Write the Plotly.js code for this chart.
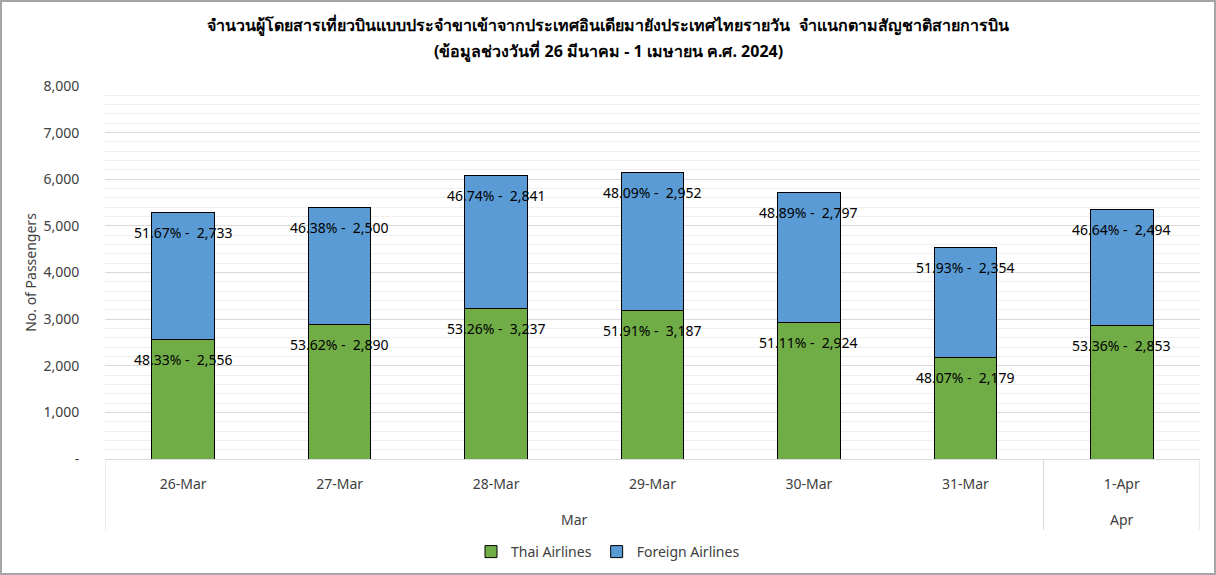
<!DOCTYPE html>
<html>
<head>
<meta charset="utf-8">
<script src="https://cdn.plot.ly/plotly-3.0.1.min.js"></script>
<style>
html,body{margin:0;padding:0;background:#fff;}
#chart{width:1216px;height:575px;}
#frame{position:fixed;left:0;top:0;width:1216px;height:575px;box-sizing:border-box;border:2px solid #a6a6a6;pointer-events:none;}
</style>
</head>
<body>
<div id="chart"></div>
<div id="frame"></div>
<script>
const dates = ["26-Mar","27-Mar","28-Mar","29-Mar","30-Mar","31-Mar","1-Apr"];
const months = ["Mar","Mar","Mar","Mar","Mar","Mar","Apr"];
const thaiAirlines = [2556, 2890, 3237, 3187, 2924, 2179, 2853];
const foreignAirlines = [2733, 2500, 2841, 2952, 2797, 2354, 2494];
const yTickVals = [0,1000,2000,3000,4000,5000,6000,7000,8000];
const yTickText = ["-","1,000","2,000","3,000","4,000","5,000","6,000","7,000","8,000"];
const titleLine1 = "จำนวนผู้โดยสารเที่ยวบินแบบประจำขาเข้าจากประเทศอินเดียมายังประเทศไทยรายวัน  จำแนกตามสัญชาติสายการบิน";
const titleLine2 = "(ข้อมูลช่วงวันที่ 26 มีนาคม - 1 เมษายน ค.ศ. 2024)";

const fmt = n => n.toLocaleString("en-US");
const font = "Noto Sans, Tahoma, sans-serif";
const W = 1216, H = 575, mL = 105, mR = 16, mT = 86, mB = 116;
const plotW = W - mL - mR, plotH = H - mT - mB;

const traces = [
  {type:"bar", name:"Thai Airlines", x:dates, y:thaiAirlines,
   marker:{color:"#70ad47", line:{color:"#000", width:1}}, width:0.4, hoverinfo:"y"},
  {type:"bar", name:"Foreign Airlines", x:dates, y:foreignAirlines,
   marker:{color:"#5b9bd5", line:{color:"#000", width:1}}, width:0.4, hoverinfo:"y"}
];

const annotations = [];
for (let i = 0; i < dates.length; i++) {
  const tot = thaiAirlines[i] + foreignAirlines[i];
  const pt = (thaiAirlines[i] / tot * 100).toFixed(2);
  const pf = (foreignAirlines[i] / tot * 100).toFixed(2);
  annotations.push({x:dates[i], y:thaiAirlines[i], xref:"x", yref:"y",
    text: pt + "% - \u00a0" + fmt(thaiAirlines[i]), showarrow:false, yanchor:"middle", yshift:-20,
    font:{family:font, size:14, color:"#000"}});
  annotations.push({x:dates[i], y:tot, xref:"x", yref:"y",
    text: pf + "% - \u00a0" + fmt(foreignAirlines[i]), showarrow:false, yanchor:"middle", yshift:-20,
    font:{family:font, size:14, color:"#000"}});
}

// second title line, centred on the whole picture
annotations.push({x:(W / 2 - mL) / plotW, xref:"paper", xanchor:"center", y:(H - mB - 52) / plotH, yref:"paper", yanchor:"middle",
  text:"<b>" + titleLine2 + "</b>", showarrow:false, font:{family:font, size:16, color:"#000"}});

// month groups: labels and dividers from the months array
const shapes = [];
const groups = [];
months.forEach((m, i) => {
  if (!groups.length || groups[groups.length-1].m !== m) groups.push({m:m, s:i, e:i});
  else groups[groups.length-1].e = i;
});
const divBottom = -71 / plotH;
groups.forEach((g, k) => {
  annotations.push({x:(g.s + g.e) / 2, y:-60 / plotH, xref:"x", yref:"paper", text:g.m,
    showarrow:false, yanchor:"middle", font:{family:font, size:14, color:"#404040"}});
  if (k === 0) shapes.push({type:"line", xref:"x", yref:"paper", x0:g.s-0.5, x1:g.s-0.5, y0:0, y1:divBottom,
    line:{color:"#d9d9d9", width:1}});
  shapes.push({type:"line", xref:"x", yref:"paper", x0:g.e+0.5, x1:g.e+0.5, y0:0, y1:divBottom,
    line:{color:"#d9d9d9", width:1}});
});

const layout = {
  width:W, height:H,
  margin:{l:mL, r:mR, t:mT, b:mB},
  paper_bgcolor:"#fff", plot_bgcolor:"#fff",
  barmode:"stack",
  title:{text:"<b>" + titleLine1 + "</b>",
    x:0.5, xref:"container", y:1 - 25 / H, yanchor:"middle",
    font:{family:font, size:16, color:"#000"}},
  xaxis:{type:"category", range:[-0.5, dates.length - 0.5], showline:true, linecolor:"#d9d9d9", linewidth:1,
    tickfont:{family:font, size:14, color:"#404040"},
    ticks:"outside", ticklen:12, tickcolor:"rgba(0,0,0,0)", showgrid:false},
  yaxis:{range:[0,8000], tickvals:yTickVals, ticktext:yTickText,
    showgrid:true, gridcolor:"#d9d9d9", gridwidth:1,
    minor:{dtick:200, showgrid:true, gridcolor:"#efefef", gridwidth:1},
    ticks:"outside", ticklen:22, tickcolor:"rgba(0,0,0,0)",
    tickfont:{family:font, size:14, color:"#404040"},
    zeroline:false,
    title:{text:"No. of Passengers", font:{family:font, size:14, color:"#404040"}, standoff:3}},
  legend:{orientation:"h", x:0.5, xref:"container", xanchor:"center", y:0.04, yref:"container", yanchor:"middle",
    font:{family:font, size:14, color:"#404040"}, traceorder:"normal"},
  annotations:annotations,
  shapes:shapes,
  showlegend:true
};

Plotly.newPlot("chart", traces, layout, {displayModeBar:false, staticPlot:true});
</script>
</body>
</html>
